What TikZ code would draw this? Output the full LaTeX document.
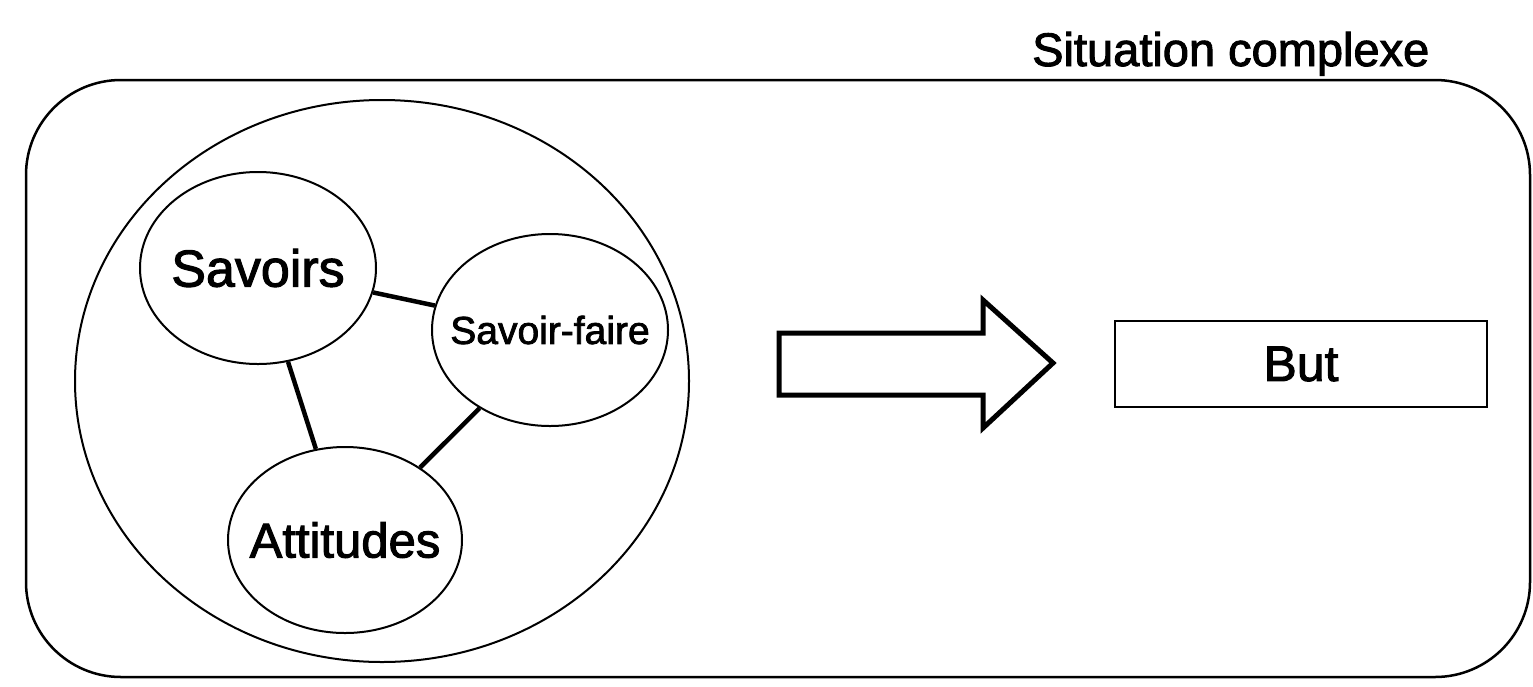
\documentclass[tikz,border=0pt]{standalone}
\usepackage{fontspec}
\setmainfont{Liberation Sans}[FakeBold=2]
\usetikzlibrary{shapes.geometric}
\tikzset{
  bubble/.style={draw, ellipse, line width=2pt, inner sep=0pt},
  link/.style={line width=4.5pt},
  goalbox/.style={draw, rectangle, line width=2.2pt, inner sep=0pt,
                  minimum width=372pt, minimum height=86pt},
}
\newcommand{\fs}[1]{\fontsize{#1}{#1}\selectfont}
\begin{document}
\begin{tikzpicture}[x=1pt,y=-1pt]
  \useasboundingbox (0,0) rectangle (1533,686);
  % frame of the complex situation
  \draw[line width=2.5pt, rounded corners=95pt] (26,80) rectangle (1530,677);
  \node[anchor=base west, inner sep=0pt] (title) at (1032,66) {\fs{47}Situation complexe};
  % the competence as a whole
  \node[bubble, minimum width=614pt, minimum height=562pt] (comp) at (382,381) {};
  \node[bubble, minimum width=236pt, minimum height=192pt] (sav) at (258,268)
    {\makebox[0pt]{\fs{52}Savoirs}};
  \node[bubble, minimum width=236pt, minimum height=192pt] (sf) at (550,330)
    {\makebox[0pt]{\fs{39}Savoir-faire}};
  \node[bubble, minimum width=234pt, minimum height=186pt] (att) at (345,540)
    {\makebox[0pt]{\fs{49}Attitudes}};
  \draw[link] (sav) -- (sf);
  \draw[link] (sav) -- (att);
  \draw[link] (sf.228) -- (att.44);
  % block arrow towards the goal
  \draw[line width=5pt, line join=miter] (779,333) -- (983,333) -- (983,300) -- (1053,363)
     -- (983,428) -- (983,395) -- (779,395) -- cycle;
  \node[goalbox] (but) at (1301,364) {\fs{50}But};
\end{tikzpicture}
\end{document}
